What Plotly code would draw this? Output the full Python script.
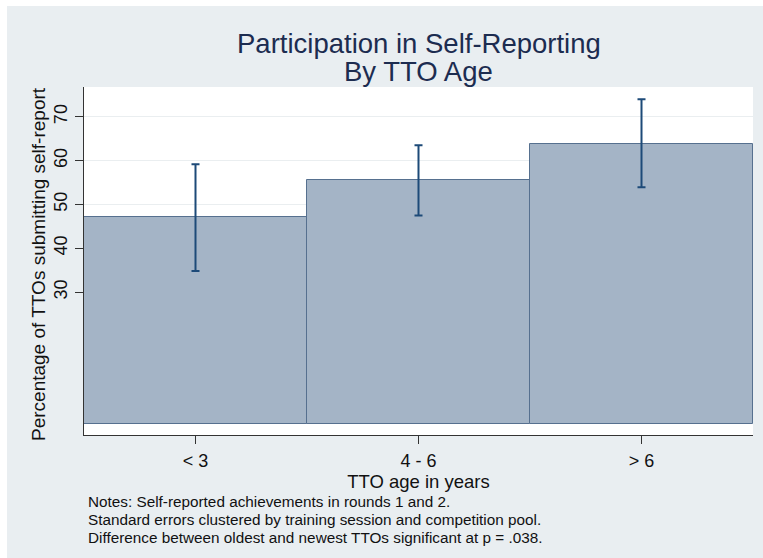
import plotly.graph_objects as go

# TTO age groups and share of TTOs submitting a self-report (%)
age_groups = ["< 3", "4 - 6", "> 6"]
pct_submitting = [47.2, 55.6, 63.9]
ci_upper = [59.2, 63.5, 74.0]
ci_lower = [34.8, 47.5, 53.9]

y_ticks = [30, 40, 50, 60, 70]

notes = [
    "Notes: Self-reported achievements in rounds 1 and 2.",
    "Standard errors clustered by training session and competition pool.",
    "Difference between oldest and newest TTOs significant at p = .038.",
]

FONT = "Liberation Sans, Arial, sans-serif"
BG = "#e9eef1"
NAVY = "#1d4a78"
INK = "#111111"

W, H = 763, 558
L, R, T, B = 84, 10, 87, 123
PW, PH = W - L - R, H - T - B


def px_x(px):
    return (px - L) / PW


def px_y(py):
    return (H - B - py) / PH


x_pos = list(range(len(age_groups)))
err_plus = [u - v for u, v in zip(ci_upper, pct_submitting)]
err_minus = [v - l for v, l in zip(pct_submitting, ci_lower)]

fig = go.Figure()
fig.add_trace(go.Bar(
    x=x_pos,
    y=pct_submitting,
    width=1.0,
    marker=dict(color="#a4b4c6", line=dict(color="#56708f", width=1)),
    error_y=dict(type="data", array=err_plus, arrayminus=err_minus,
                 color=NAVY, thickness=2, width=4),
    showlegend=False,
    hoverinfo="skip",
))

annotations = [
    dict(text="Participation in Self-Reporting", x=px_x(418.5), y=px_y(44),
         xref="paper", yref="paper", xanchor="center", yanchor="middle",
         showarrow=False, font=dict(family=FONT, size=27.5, color="#1c2c50")),
    dict(text="By TTO Age", x=px_x(418.5), y=px_y(72),
         xref="paper", yref="paper", xanchor="center", yanchor="middle",
         showarrow=False, font=dict(family=FONT, size=27.5, color="#1c2c50")),
    dict(text="Percentage of TTOs submitting self-report",
         x=px_x(38), y=px_y(264), textangle=-90,
         xref="paper", yref="paper", xanchor="center", yanchor="middle",
         showarrow=False, font=dict(family=FONT, size=19, color=INK)),
]
for i, line in enumerate(notes):
    annotations.append(dict(
        text=line, x=px_x(86), y=px_y(501 + 18 * i),
        xref="paper", yref="paper", xanchor="left", yanchor="middle",
        showarrow=False, font=dict(family=FONT, size=15.3, color=INK),
    ))

fig.update_layout(
    width=W, height=H,
    margin=dict(l=L, r=R, t=T, b=B, pad=0),
    paper_bgcolor=BG,
    plot_bgcolor="white",
    font=dict(family=FONT, color=INK),
    bargap=0,
    annotations=annotations,
    shapes=[
        dict(type="rect", xref="paper", yref="paper",
             x0=px_x(0), x1=px_x(W), y0=px_y(6), y1=px_y(0),
             fillcolor="white", line=dict(width=0), layer="below"),
        dict(type="rect", xref="paper", yref="paper",
             x0=px_x(0), x1=px_x(7), y0=px_y(H), y1=px_y(0),
             fillcolor="white", line=dict(width=0), layer="below"),
    ],
)

fig.update_xaxes(
    range=[-0.5, 2.5],
    tickmode="array", tickvals=x_pos, ticktext=age_groups,
    ticks="outside", ticklen=8, tickwidth=1, tickcolor="#333333",
    showline=True, linecolor="#333333", linewidth=1.3,
    showgrid=False, zeroline=False,
    tickfont=dict(size=18, color=INK),
    ticklabelstandoff=1,
    title=dict(text="TTO age in years", font=dict(size=18.5, color=INK),
               standoff=0),
)
fig.update_yaxes(
    range=[-2.6, 76.8],
    tickmode="array", tickvals=y_ticks,
    ticks="outside", ticklen=8, tickwidth=1, tickcolor="#333333",
    tickangle=-90,
    ticklabelstandoff=1,
    showline=True, linecolor="#333333", linewidth=1.3,
    showgrid=True, gridcolor="#eaeef0", gridwidth=1,
    zeroline=False,
    tickfont=dict(size=18, color=INK),
)

fig.write_html("out.html")
